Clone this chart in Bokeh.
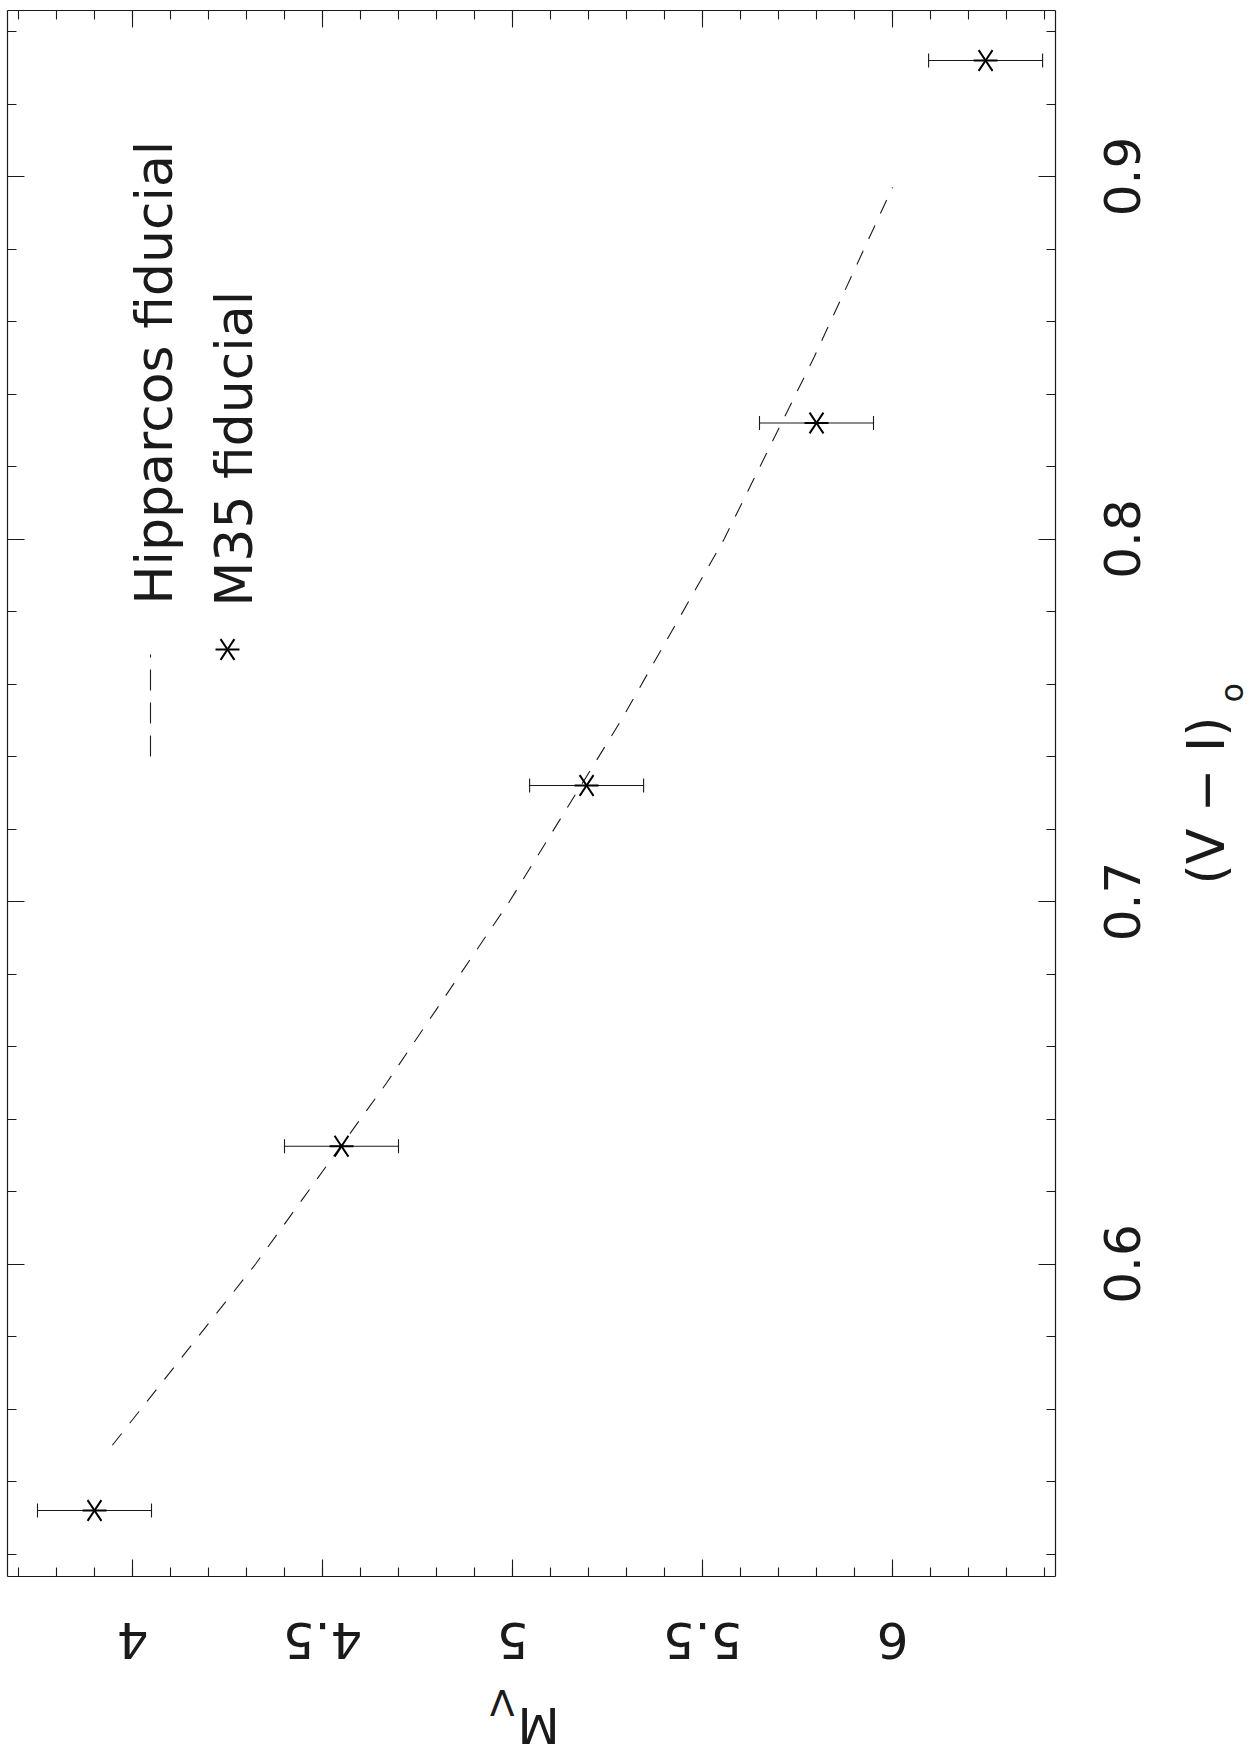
import math
from bokeh.plotting import figure
from bokeh.models import (Range1d, LinearAxis, FixedTicker, ColumnDataSource,
                          Whisker, TeeHead)
from bokeh.core.properties import value
from bokeh.embed import file_html
from bokeh.resources import INLINE

# ---------------- data ----------------
hip_vi = [0.55, 0.60, 0.65, 0.70, 0.75, 0.80, 0.85, 0.897]
hip_mv = [3.947, 4.324, 4.669, 4.992, 5.286, 5.557, 5.793, 6.000]

m35_vi = [0.532, 0.6325, 0.732, 0.832, 0.932]
m35_mv = [3.90, 4.55, 5.195, 5.80, 6.245]
m35_err = [0.15, 0.15, 0.15, 0.15, 0.15]

mv_major = [4, 4.5, 5, 5.5, 6]
mv_labels = ["4", "4.5", "5", "5.5", "6"]
mv_minor = [3.7, 3.8, 3.9, 4.0, 4.1, 4.2, 4.3, 4.4, 4.5, 4.6, 4.7, 4.8, 4.9, 5.0,
            5.1, 5.2, 5.3, 5.4, 5.5, 5.6, 5.7, 5.8, 5.9, 6.0, 6.1, 6.2, 6.3, 6.4]
vi_major = [0.6, 0.7, 0.8, 0.9]
vi_labels = ["0.6", "0.7", "0.8", "0.9"]
vi_minor = [0.52, 0.54, 0.56, 0.58, 0.60, 0.62, 0.64, 0.66, 0.68, 0.70, 0.72,
            0.74, 0.76, 0.78, 0.80, 0.82, 0.84, 0.86, 0.88, 0.90, 0.92, 0.94]

legend_labels = ["Hipparcos fiducial", "M35 fiducial"]

# ---------------- layout (page pixels -> data) ----------------
W, H = 1254, 1752
PX_PER_MV = 380.0
PX_PER_VI = 3625.0
X0 = 4 - 132 / PX_PER_MV
Y0 = 0.9 + 176 / PX_PER_VI

def mx(px):
    return X0 + px / PX_PER_MV

def vy(py):
    return Y0 - py / PX_PER_VI

BOX_L, BOX_R, BOX_T, BOX_B = 7, 1055, 10, 1576

FONT = "DejaVu Sans ExtraLight, DejaVu Sans"
INK = "#1a1a1a"

p = figure(frame_width=W, frame_height=H,
           x_range=Range1d(mx(0), mx(W)), y_range=Range1d(vy(H), vy(0)),
           output_backend="svg", toolbar_location=None,
           x_axis_location=None, y_axis_location=None,
           min_border_left=0, min_border_top=0, min_border_right=0,
           min_border_bottom=0)
p.xgrid.visible = False
p.ygrid.visible = False
p.outline_line_color = None
p.background_fill_color = "white"
p.border_fill_color = "white"

def make_axis(ticks, minor, loc, bounds):
    ax = LinearAxis(ticker=FixedTicker(ticks=ticks, minor_ticks=minor),
                    fixed_location=loc, bounds=bounds)
    ax.major_tick_in = 17
    ax.major_tick_out = 0
    ax.minor_tick_in = 9
    ax.minor_tick_out = 0
    ax.axis_line_color = INK
    ax.major_tick_line_color = INK
    ax.minor_tick_line_color = INK
    ax.axis_line_width = 1.2
    ax.major_tick_line_width = 1.1
    ax.minor_tick_line_width = 1.1
    ax.major_label_text_font_size = "0px"
    ax.major_label_standoff = 0
    ax.major_label_text_color = None
    return ax

xb = (mx(BOX_L), mx(BOX_R))
yb = (vy(BOX_B), vy(BOX_T))
p.add_layout(make_axis(mv_major, mv_minor, vy(BOX_B), xb), "below")
p.add_layout(make_axis(mv_major, mv_minor, vy(BOX_T), xb), "above")
p.add_layout(make_axis(vi_major, vi_minor, mx(BOX_L), yb), "left")
p.add_layout(make_axis(vi_major, vi_minor, mx(BOX_R), yb), "right")

txt = dict(text_font=value(FONT), text_color=INK, text_baseline="middle")

# tick labels (page is rotated: M_V labels upside down, (V-I) labels read upwards)
p.text(x=mv_major, y=[vy(1640)] * len(mv_major), text=mv_labels, angle=math.pi,
       text_align="center", text_font_size="50px", **txt)
p.text(x=[mx(1121)] * len(vi_major), y=vi_major, text=vi_labels, angle=math.pi / 2,
       text_align="center", text_font_size="50px", **txt)

# axis titles
p.text(x=[mx(1205)], y=[vy(716)], text=["(V \u2212 I)"], angle=math.pi / 2,
       text_align="right", text_font_size="52px", **txt)
p.text(x=[mx(1231)], y=[vy(702)], text=["o"], angle=math.pi / 2,
       text_align="left", text_font_size="32px", **txt)
p.text(x=[mx(538)], y=[vy(1724)], text=["M"], angle=math.pi,
       text_align="center", text_font_size="49px", **txt)
p.text(x=[mx(514)], y=[vy(1702)], text=["V"], angle=math.pi,
       text_align="left", text_font_size="36px", **txt)

# Hipparcos fiducial (dashed)
p.line(hip_mv, hip_vi, line_color=INK, line_width=1.1, line_dash="15 13")

# M35 fiducial with error bars
lo = [m - e for m, e in zip(m35_mv, m35_err)]
hi = [m + e for m, e in zip(m35_mv, m35_err)]
src = ColumnDataSource(data=dict(mv=m35_mv, vi=m35_vi, lo=lo, hi=hi))
wh = Whisker(source=src, base="vi", lower="lo", upper="hi", dimension="width",
             line_color=INK, line_width=1.1,
             lower_head=TeeHead(size=14, line_color=INK, line_width=1.1),
             upper_head=TeeHead(size=14, line_color=INK, line_width=1.1))
p.add_layout(wh)
for ang in (math.pi / 2, -math.pi / 2):
    p.scatter("mv", "vi", source=src, marker="y", size=24, angle=ang,
              line_color="black", line_width=2)

# legend (rotated like the rest of the page)
p.line([mx(150), mx(150)], [vy(756), vy(654)], line_color=INK, line_width=1.1,
       line_dash="21 12")
for ang in (math.pi / 2, -math.pi / 2):
    p.scatter([mx(227)], [vy(649)], marker="y", size=24, angle=ang,
              line_color="black", line_width=2)
p.text(x=[mx(153), mx(233)], y=[vy(604), vy(606)], text=legend_labels,
       angle=math.pi / 2, text_align="left", text_font_size="52px", **txt)

open("out.html", "w").write(file_html(p, INLINE))
